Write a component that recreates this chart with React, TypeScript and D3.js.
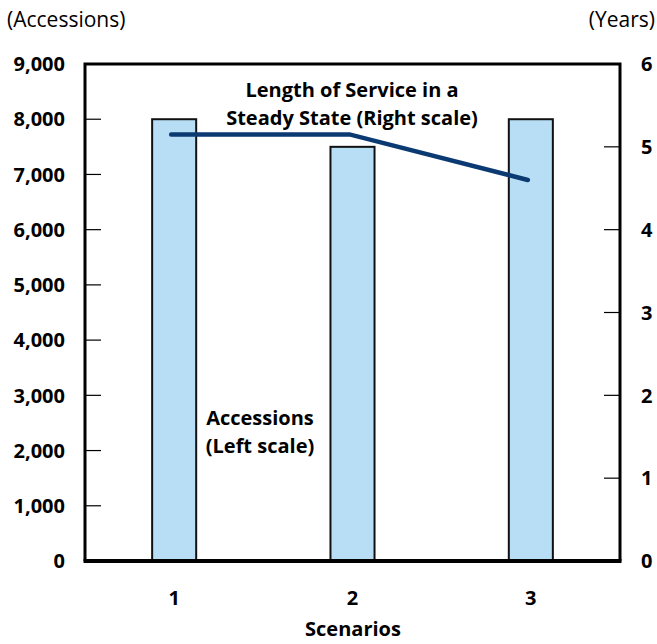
import React, { useRef, useEffect } from 'react';
import * as d3 from 'd3';

const scenarios = ['1', '2', '3'];
const accessions = [8000, 7500, 8000];
const lengthOfService = [5.15, 5.15, 4.6];
const leftTicks = [0, 1000, 2000, 3000, 4000, 5000, 6000, 7000, 8000, 9000];
const rightTicks = [0, 1, 2, 3, 4, 5, 6];

const App: React.FC = () => {
  const svgRef = useRef<SVGSVGElement | null>(null);

  useEffect(() => {
    const svg = d3.select(svgRef.current);
    svg.selectAll('*').remove();

    const width = 657;
    const height = 644;
    const left = 85;
    const right = 620;
    const top = 64;
    const bottom = 561;
    const font = '"Open Sans", "Noto Sans", sans-serif';

    svg
      .attr('width', width)
      .attr('height', height)
      .style('position', 'absolute')
      .style('left', '0px')
      .style('top', '0px')
      .style('font-family', font);

    const x = d3
      .scaleBand()
      .domain(scenarios)
      .range([left, right])
      .paddingInner(0.753)
      .paddingOuter(0.3765);
    const yLeft = d3.scaleLinear().domain([0, 9000]).range([bottom, top]);
    const yRight = d3.scaleLinear().domain([0, 6]).range([bottom, top]);

    // bars
    svg
      .selectAll('rect.bar')
      .data(accessions)
      .enter()
      .append('rect')
      .attr('class', 'bar')
      .attr('x', (_, i) => x(scenarios[i])!)
      .attr('y', (d) => yLeft(d))
      .attr('width', x.bandwidth())
      .attr('height', (d) => bottom - yLeft(d))
      .attr('fill', '#b7def4')
      .attr('stroke', '#111')
      .attr('stroke-width', 2);

    // frame
    svg
      .append('path')
      .attr('d', `M${left},${bottom} V${top} H${right} V${bottom}`)
      .attr('fill', 'none')
      .attr('stroke', '#000')
      .attr('stroke-width', 3);
    svg
      .append('line')
      .attr('x1', left - 1.5)
      .attr('x2', right + 1.5)
      .attr('y1', bottom)
      .attr('y2', bottom)
      .attr('stroke', '#000')
      .attr('stroke-width', 4);

    // left axis
    const gl = svg.append('g');
    gl.selectAll('line')
      .data(leftTicks.filter((t) => t > 0 && t < 9000))
      .enter()
      .append('line')
      .attr('x1', left)
      .attr('x2', left + 16)
      .attr('y1', (d) => yLeft(d))
      .attr('y2', (d) => yLeft(d))
      .attr('stroke', '#000')
      .attr('stroke-width', 1.2);
    gl.selectAll('text')
      .data(leftTicks)
      .enter()
      .append('text')
      .attr('x', 65)
      .attr('y', (d) => yLeft(d))
      .attr('dy', '0.36em')
      .attr('text-anchor', 'end')
      .attr('font-size', 20)
      .attr('font-weight', 700)
      .text((d) => d3.format(',')(d));

    // right axis
    const gr = svg.append('g');
    gr.selectAll('line')
      .data(rightTicks.filter((t) => t > 0 && t < 6))
      .enter()
      .append('line')
      .attr('x1', right - 16)
      .attr('x2', right)
      .attr('y1', (d) => yRight(d))
      .attr('y2', (d) => yRight(d))
      .attr('stroke', '#000')
      .attr('stroke-width', 1.2);
    gr.selectAll('text')
      .data(rightTicks)
      .enter()
      .append('text')
      .attr('x', 641)
      .attr('y', (d) => yRight(d))
      .attr('dy', '0.36em')
      .attr('font-size', 20)
      .attr('font-weight', 700)
      .text((d) => d);

    // x labels
    svg
      .append('g')
      .selectAll('text')
      .data(scenarios)
      .enter()
      .append('text')
      .attr('x', (d) => x(d)! + x.bandwidth() / 2)
      .attr('y', 605)
      .attr('text-anchor', 'middle')
      .attr('font-size', 20)
      .attr('font-weight', 700)
      .text((d) => d);

    svg
      .append('text')
      .attr('x', 353)
      .attr('y', 636)
      .attr('text-anchor', 'middle')
      .attr('font-size', 20)
      .attr('font-weight', 700)
      .text('Scenarios');

    // unit labels
    svg
      .append('text')
      .attr('x', 7)
      .attr('y', 27)
      .attr('font-size', 21)
      .text('(Accessions)');
    svg
      .append('text')
      .attr('x', 655)
      .attr('y', 27)
      .attr('text-anchor', 'end')
      .attr('font-size', 21)
      .text('(Years)');

    // line
    const line = d3
      .line<number>()
      .x((_, i) => x(scenarios[i])! + x.bandwidth() / 2 - 3)
      .y((d) => yRight(d));
    svg
      .append('path')
      .datum(lengthOfService)
      .attr('d', line)
      .attr('fill', 'none')
      .attr('stroke', '#0b3a73')
      .attr('stroke-width', 4.5)
      .attr('stroke-linecap', 'round');

    // annotations
    const note = (lines: string[], cx: number, y0: number) => {
      const t = svg
        .append('text')
        .attr('text-anchor', 'middle')
        .attr('font-size', 20)
        .attr('font-weight', 700);
      lines.forEach((s, i) => {
        t.append('tspan').attr('x', cx).attr('y', y0 + i * 28).text(s);
      });
    };
    note(['Length of Service in a', 'Steady State (Right scale)'], 352, 97);
    note(['Accessions', '(Left scale)'], 260, 425);
  }, []);

  return <svg ref={svgRef}></svg>;
};

export default App;
